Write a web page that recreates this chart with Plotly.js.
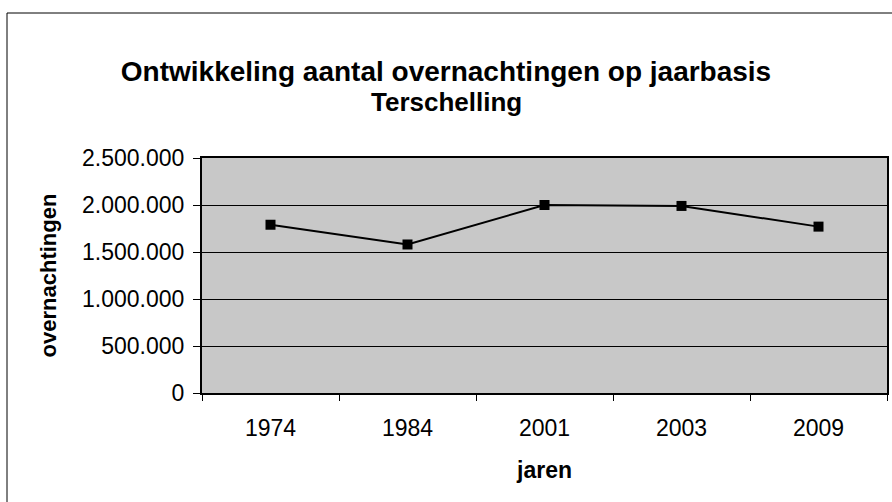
<!DOCTYPE html>
<html>
<head>
<meta charset="utf-8">
<script src="https://cdn.plot.ly/plotly-3.0.1.min.js"></script>
<style>html,body{margin:0;padding:0;background:#fff}#chart{width:892px;height:502px}</style>
</head>
<body>
<div id="chart"></div>
<script>
var years = ["1974", "1984", "2001", "2003", "2009"];
var overnachtingen = [1790000, 1580000, 2000000, 1990000, 1770000];
var yTicks = [0, 500000, 1000000, 1500000, 2000000, 2500000];
var titleLines = ["Ontwikkeling aantal overnachtingen op jaarbasis", "Terschelling"];

var trace = {
  x: years,
  y: overnachtingen,
  type: "scatter",
  mode: "lines+markers",
  line: {color: "#000", width: 2},
  marker: {symbol: "square", size: 10, color: "#000"},
  hoverinfo: "skip"
};

var layout = {
  width: 892, height: 502,
  margin: {l: 202, r: 5, t: 158, b: 109},
  paper_bgcolor: "#fff",
  plot_bgcolor: "#c8c8c8",
  separators: ",.",
  font: {family: "Liberation Sans, Arial, sans-serif", color: "#000"},
  showlegend: false,
  title: {
    text: "<b>" + titleLines[0] + "</b>",
    font: {size: 28, color: "#000"},
    x: 0.5, xanchor: "center",
    yref: "container", y: 1 - 71/502, yanchor: "middle"
  },
  annotations: [{
    text: "<b>" + titleLines[1] + "</b>",
    font: {size: 26, color: "#000"},
    xref: "paper", yref: "paper",
    x: (446 - 202) / 685, y: (393 - 102) / 235,
    xanchor: "center", yanchor: "middle", showarrow: false
  }],
  xaxis: {
    type: "category",
    range: [-0.5, 4.5],
    showgrid: false,
    showline: true, linecolor: "#000", linewidth: 2, mirror: true,
    ticks: "outside", ticklen: 6, tickcolor: "#000", tickson: "boundaries",
    tickfont: {size: 23},
    ticklabelstandoff: 13,
    title: {text: "<b>jaren</b>", font: {size: 23}, standoff: 22},
    zeroline: false,
    fixedrange: true
  },
  yaxis: {
    range: [0, 2500000],
    tickvals: yTicks,
    tickformat: ",d",
    showgrid: true, gridcolor: "#000", gridwidth: 1,
    showline: true, linecolor: "#000", linewidth: 2, mirror: true,
    ticks: "outside", ticklen: 7, tickcolor: "#000",
    tickfont: {size: 23},
    ticklabelstandoff: 4,
    title: {text: "<b>overnachtingen</b>", font: {size: 22}, standoff: 19},
    zeroline: false,
    fixedrange: true
  },
  shapes: [{
    type: "rect", xref: "paper", yref: "paper",
    x0: -195/685, x1: 700/685, y0: -119/235, y1: 380/235,
    line: {color: "#000", width: 1}, fillcolor: "rgba(0,0,0,0)", layer: "below"
  }]
};

Plotly.newPlot("chart", [trace], layout, {displayModeBar: false, staticPlot: true});
</script>
</body>
</html>
